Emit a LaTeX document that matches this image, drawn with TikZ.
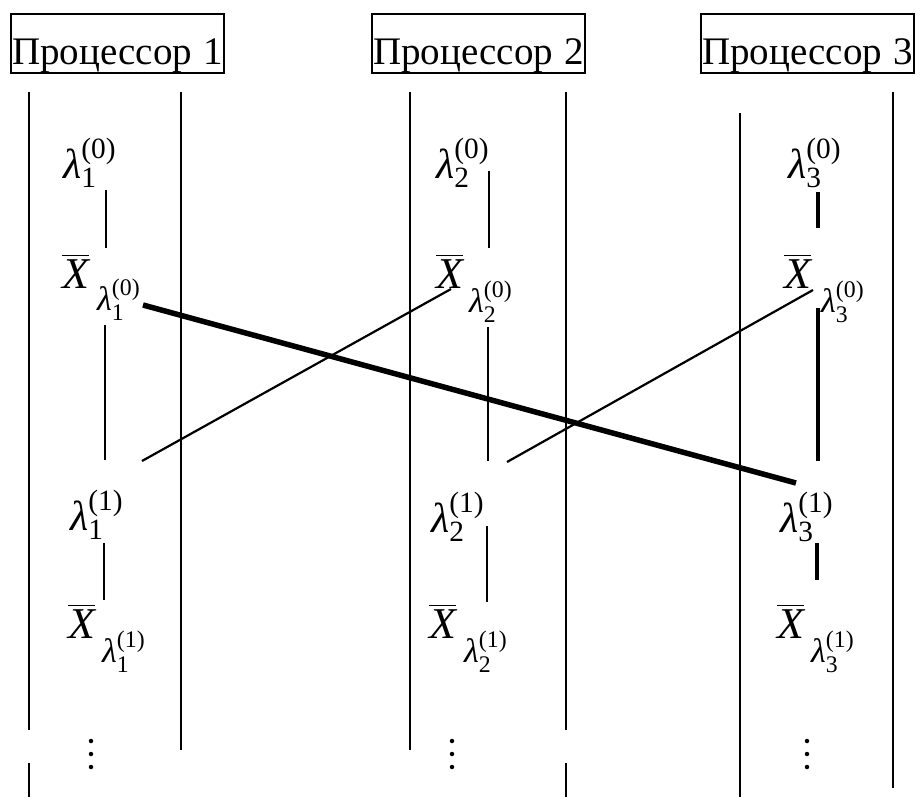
\documentclass[tikz,border=0pt]{standalone}
\usepackage{amsmath}
\usepackage{fontspec}
\setmainfont{Liberation Serif}
\newcommand\mylam{\text{\itshape λ}}
\newcommand\myX{\overline{\text{\itshape X}}}
\newcommand\myidx[2]{\mylam_{\text{#1}}^{\text{(#2)}}}
\tikzset{
  rail/.style={line width=1.8pt},
  conn/.style={line width=2.2pt},
  boldconn/.style={line width=5.5pt},
  boldvert/.style={line width=4.5pt},
  procbox/.style={draw, line width=2pt, inner sep=0pt, anchor=north west, minimum width=213pt, minimum height=59pt},
  proctext/.style={inner sep=0pt, anchor=base west, font=\fontsize{39}{44}\selectfont},
  lam/.style={inner sep=0pt, anchor=base west, font=\fontsize{42}{48}\selectfont},
  xb/.style={inner sep=0pt, anchor=base west, font=\fontsize{44}{52}\selectfont},
  lsub/.style={inner sep=0pt, anchor=base west, font=\fontsize{34}{38}\selectfont},
  vdot/.style={circle, fill, inner sep=0pt, minimum size=4.5pt},
}
\begin{document}
\begin{tikzpicture}[x=1pt,y=-1pt]
\useasboundingbox (0,0) rectangle (920,797);

% processor headers
\node[proctext] (t1) at (12,65) {Процессор\hspace{0.3em}1};
\node[proctext] (t2) at (373,65) {Процессор\hspace{0.3em}2};
\node[proctext] (t3) at (702,65) {Процессор\hspace{0.3em}3};
\node[procbox] (b1) at (10,13) {};
\node[procbox] (b2) at (371,13) {};
\node[procbox] (b3) at (700,13) {};

% vertical rails
\coordinate (r1a) at (29,92);  \coordinate (r1b) at (29,730);
\coordinate (r1c) at (29,763); \coordinate (r1d) at (29,797);
\coordinate (r2a) at (181,92); \coordinate (r2b) at (181,750);
\coordinate (r3a) at (410,92); \coordinate (r3b) at (410,750);
\coordinate (r4a) at (566,92); \coordinate (r4b) at (566,730);
\coordinate (r4c) at (566,763); \coordinate (r4d) at (566,797);
\coordinate (r5a) at (740,113); \coordinate (r5b) at (740,797);
\coordinate (r6a) at (893,92); \coordinate (r6b) at (893,788);
\draw[rail] (r1a) -- (r1b);
\draw[rail] (r1c) -- (r1d);
\draw[rail] (r2a) -- (r2b);
\draw[rail] (r3a) -- (r3b);
\draw[rail] (r4a) -- (r4b);
\draw[rail] (r4c) -- (r4d);
\draw[rail] (r5a) -- (r5b);
\draw[rail] (r6a) -- (r6b);

% processor 1
\node[lam] (l10) at (63,178) {$\myidx{1}{0}$};
\node[xb] (x10) at (62,288) {$\myX$};
\node[lsub] (s10) at (97,310) {$\myidx{1}{0}$};
\node[lam] (l11) at (70,530) {$\myidx{1}{1}$};
\node[xb] (x11) at (68,638) {$\myX$};
\node[lsub] (s11) at (102,662) {$\myidx{1}{1}$};
\node[vdot] (d1a) at (91,741) {};
\node[vdot] (d1b) at (91,754) {};
\node[vdot] (d1c) at (91,767) {};

% processor 2
\node[lam] (l20) at (436,178) {$\myidx{2}{0}$};
\node[xb] (x20) at (436,288) {$\myX$};
\node[lsub] (s20) at (469,312) {$\myidx{2}{0}$};
\node[lam] (l21) at (431,532) {$\myidx{2}{1}$};
\node[xb] (x21) at (429,638) {$\myX$};
\node[lsub] (s21) at (464,662) {$\myidx{2}{1}$};
\node[vdot] (d2a) at (452,741) {};
\node[vdot] (d2b) at (452,754) {};
\node[vdot] (d2c) at (452,767) {};

% processor 3
\node[lam] (l30) at (788,178) {$\myidx{3}{0}$};
\node[xb] (x30) at (784,288) {$\myX$};
\node[lsub] (s30) at (821,312) {$\myidx{3}{0}$};
\node[lam] (l31) at (780,532) {$\myidx{3}{1}$};
\node[xb] (x31) at (777,638) {$\myX$};
\node[lsub] (s31) at (811,662) {$\myidx{3}{1}$};
\node[vdot] (d3a) at (807,741) {};
\node[vdot] (d3b) at (807,754) {};
\node[vdot] (d3c) at (807,767) {};

% short vertical connectors
\coordinate (p1a) at (106,190); \coordinate (p1b) at (106,248);
\coordinate (p1c) at (105,325); \coordinate (p1d) at (105,460);
\coordinate (p1e) at (104,543); \coordinate (p1f) at (104,600);
\draw[conn] (p1a) -- (p1b);
\draw[conn] (p1c) -- (p1d);
\draw[conn] (p1e) -- (p1f);

\coordinate (p2a) at (489,171); \coordinate (p2b) at (489,248);
\coordinate (p2c) at (488,327); \coordinate (p2d) at (488,461);
\coordinate (p2e) at (487,526); \coordinate (p2f) at (487,602);
\draw[conn] (p2a) -- (p2b);
\draw[conn] (p2c) -- (p2d);
\draw[conn] (p2e) -- (p2f);

\coordinate (p3a) at (818,192); \coordinate (p3b) at (818,228);
\coordinate (p3c) at (818,308); \coordinate (p3d) at (818,461);
\coordinate (p3e) at (817,543); \coordinate (p3f) at (817,580);
\draw[boldvert] (p3a) -- (p3b);
\draw[boldvert] (p3c) -- (p3d);
\draw[boldvert] (p3e) -- (p3f);

% crossing connectors
\coordinate (c1a) at (143,305); \coordinate (c1b) at (796,483);
\draw[boldconn] (c1a) -- (c1b);
\coordinate (c2a) at (142,461); \coordinate (c2b) at (451,289);
\draw[conn] (c2a) -- (c2b);
\coordinate (c3a) at (507,462); \coordinate (c3b) at (813,290);
\draw[conn] (c3a) -- (c3b);
\end{tikzpicture}
\end{document}
